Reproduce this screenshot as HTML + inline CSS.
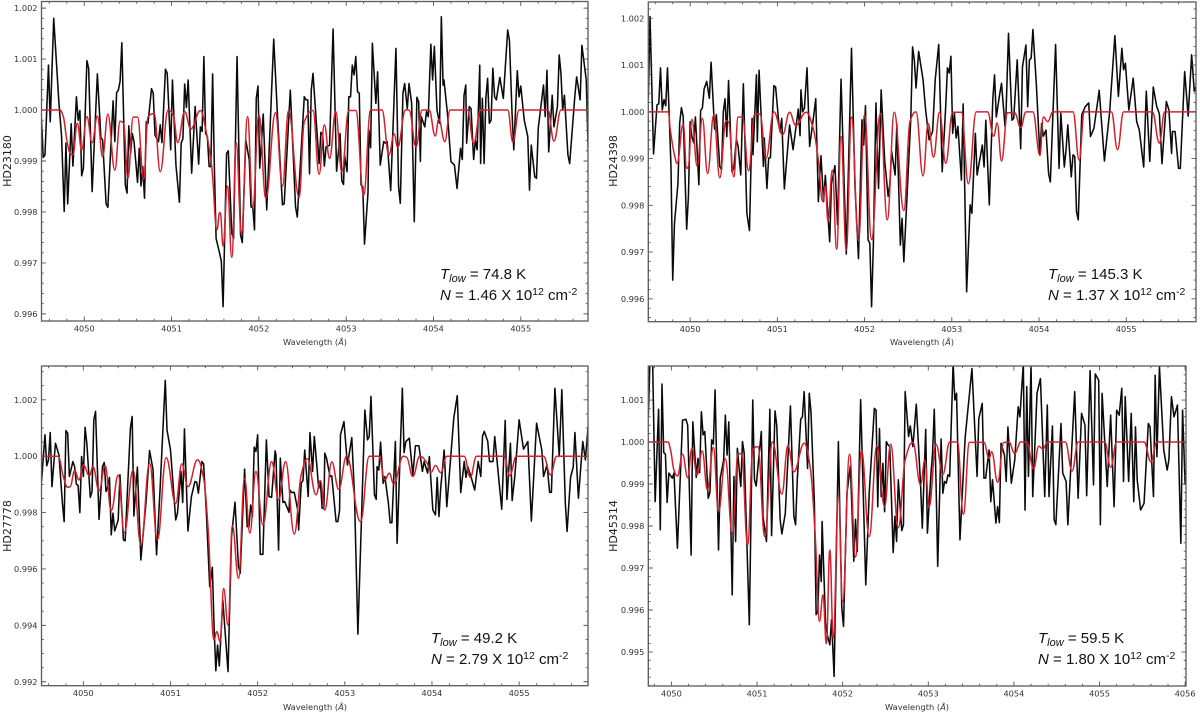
<!DOCTYPE html>
<html lang="en">
<head>
<meta charset="utf-8">
<title>Spectra fits</title>
<style>
html,body{margin:0;padding:0;background:#fff;width:1200px;height:712px;overflow:hidden}
svg{display:block;filter:blur(0.3px)}
.tick-text{font-family:"DejaVu Sans",sans-serif;font-size:8.2px;fill:#333}
.axis-title{font-family:"DejaVu Sans",sans-serif;font-size:8.3px;fill:#333;text-anchor:middle}
.star{font-family:"DejaVu Sans",sans-serif;font-size:11px;fill:#222;text-anchor:middle}
.note{font-family:"Liberation Sans",sans-serif;font-size:15px;fill:#111}
</style>
</head>
<body>
<svg id="figure" xmlns="http://www.w3.org/2000/svg" width="1200" height="712" viewBox="0 0 1200 712">
<rect width="1200" height="712" fill="#fff"/>
<g id="p1"></g>
<g id="p2"></g>
<g id="p3"></g>
<g id="p4"></g>

<text class="star" transform="translate(11,161) rotate(-90)">HD23180</text>
<text class="star" transform="translate(617,161) rotate(-90)">HD24398</text>
<text class="star" transform="translate(11,526) rotate(-90)">HD27778</text>
<text class="star" transform="translate(617,526) rotate(-90)">HD45314</text>

<text class="axis-title" x="315" y="345">Wavelength (<tspan font-style="italic">Å</tspan>)</text>
<text class="axis-title" x="922" y="345">Wavelength (<tspan font-style="italic">Å</tspan>)</text>
<text class="axis-title" x="315" y="710">Wavelength (<tspan font-style="italic">Å</tspan>)</text>
<text class="axis-title" x="917" y="710">Wavelength (<tspan font-style="italic">Å</tspan>)</text>

<g>
<text class="note" x="440" y="279"><tspan font-style="italic">T</tspan><tspan font-style="italic" font-size="11" dy="3">low</tspan><tspan dy="-3"> = 74.8 K</tspan></text>
<text class="note" x="440" y="300"><tspan font-style="italic">N</tspan> = 1.46 X 10<tspan font-size="10.5" dy="-5">12</tspan><tspan dy="5"> cm</tspan><tspan font-size="10.5" dy="-5">-2</tspan></text>
</g>
<g>
<text class="note" x="1048" y="279"><tspan font-style="italic">T</tspan><tspan font-style="italic" font-size="11" dy="3">low</tspan><tspan dy="-3"> = 145.3 K</tspan></text>
<text class="note" x="1048" y="300"><tspan font-style="italic">N</tspan> = 1.37 X 10<tspan font-size="10.5" dy="-5">12</tspan><tspan dy="5"> cm</tspan><tspan font-size="10.5" dy="-5">-2</tspan></text>
</g>
<g>
<text class="note" x="431" y="643"><tspan font-style="italic">T</tspan><tspan font-style="italic" font-size="11" dy="3">low</tspan><tspan dy="-3"> = 49.2 K</tspan></text>
<text class="note" x="431" y="664"><tspan font-style="italic">N</tspan> = 2.79 X 10<tspan font-size="10.5" dy="-5">12</tspan><tspan dy="5"> cm</tspan><tspan font-size="10.5" dy="-5">-2</tspan></text>
</g>
<g>
<text class="note" x="1038" y="643"><tspan font-style="italic">T</tspan><tspan font-style="italic" font-size="11" dy="3">low</tspan><tspan dy="-3"> = 59.5 K</tspan></text>
<text class="note" x="1038" y="664"><tspan font-style="italic">N</tspan> = 1.80 X 10<tspan font-size="10.5" dy="-5">12</tspan><tspan dy="5"> cm</tspan><tspan font-size="10.5" dy="-5">-2</tspan></text>
</g>
</svg>

<script>
// Wave arrays: angstroms relative to 4050. Flux arrays: departure from continuum in units of 0.001.
const hd23180ObsWave = [
-0.49,-0.47,-0.45,-0.41,-0.39,-0.35,-0.29,-0.26,-0.23,-0.21,
-0.19,-0.15,-0.13,-0.09,-0.07,-0.05,-0.03,-0.01,0.03,0.05,
0.09,0.15,0.19,0.21,0.25,0.27,0.33,0.35,0.37,0.39,
0.41,0.43,0.47,0.49,0.51,0.53,0.55,0.57,0.61,0.63,
0.65,0.67,0.69,0.71,0.73,0.77,0.79,0.81,0.85,0.87,
0.89,0.93,0.95,0.99,1.01,1.05,1.09,1.11,1.13,1.15,
1.17,1.19,1.23,1.27,1.31,1.33,1.35,1.37,1.39,1.41,
1.43,1.45,1.47,1.49,1.51,1.55,1.57,1.59,1.63,1.65,
1.69,1.71,1.75,1.79,1.81,1.85,1.89,1.91,1.93,1.95,
1.97,1.99,2.01,2.05,2.09,2.17,2.21,2.27,2.29,2.36,
2.42,2.44,2.52,2.54,2.56,2.58,2.60,2.62,2.69,2.71,
2.73,2.75,2.77,2.81,2.85,2.89,2.93,2.95,2.97,2.98,
3.01,3.03,3.05,3.07,3.09,3.11,3.13,3.15,3.17,3.19,
3.21,3.25,3.26,3.28,3.30,3.34,3.36,3.39,3.43,3.45,
3.47,3.51,3.57,3.60,3.62,3.65,3.67,3.70,3.72,3.75,
3.78,3.81,3.83,3.85,3.86,3.90,3.92,3.94,3.97,3.99,
4.01,4.04,4.07,4.09,4.11,4.12,4.16,4.20,4.24,4.27,
4.31,4.33,4.35,4.37,4.38,4.41,4.43,4.46,4.48,4.50,
4.53,4.54,4.56,4.58,4.60,4.62,4.64,4.66,4.68,4.70,
4.72,4.76,4.80,4.85,4.87,4.90,4.92,4.96,4.98,5.00,
5.04,5.08,5.10,5.12,5.16,5.18,5.20,5.26,5.28,5.30,
5.32,5.36,5.38,5.42,5.44,5.46,5.48,5.50,5.54,5.56,
5.62,5.64,5.68,5.70,5.75,5.78];
const hd23180ObsFlux = [
-0.20,-0.93,-0.88,0.88,-0.23,1.80,0.13,-0.52,-1.99,-0.65,
-1.84,-0.27,-1.10,0.26,-0.20,-0.01,-1.29,-1.14,0.97,0.82,
-1.60,0.71,-0.54,-0.59,-1.84,-1.91,0.18,-0.62,0.34,0.39,
0.56,1.32,-1.47,-1.63,-0.31,-0.85,-0.46,-0.62,-1.42,-0.75,
-1.49,-1.11,-1.73,-0.23,-0.26,0.42,0.33,-0.49,-0.62,-0.29,
-0.64,0.80,0.72,-0.78,0.59,-1.08,-1.81,-0.65,-0.56,0.51,
0.05,0.59,-1.24,0.07,-1.06,-0.33,-0.42,1.05,-0.46,-0.52,
-1.11,-1.11,0.71,-1.11,-2.52,-2.81,-2.97,-3.86,-0.85,-0.80,
-2.42,-2.52,1.05,-2.45,-2.60,-0.59,-0.98,-1.90,-1.91,-2.35,
0.23,0.47,-1.14,-0.08,-1.96,1.39,0,-1.86,-1.84,0.39,
-1.90,-2.10,0.26,0.20,0.20,-1.25,0.39,0.72,-1.05,-0.44,
-0.47,-1.10,-0.72,-0.69,1.59,-1.20,-0.46,-1.39,-1.46,-0.88,
-1.21,0.26,0.26,0.88,0.69,1.05,0.36,0.33,-1.47,-1.50,
-2.63,-1.62,-0.39,-0.74,1.31,0.13,0.75,-1.08,-0.62,-0.65,
-0.62,-1.58,1.21,-1.50,-1.83,0.33,0.52,0.03,0.52,0.13,
-2.19,0.25,0.16,-1.01,-0.13,-0.33,-0.03,-0.13,1.29,0.59,
1.25,0,-0.26,1.83,0.49,0.59,-0.07,-1.01,-1.08,-1.54,
-0.75,-0.97,0.29,0.49,-0.65,0.07,0.03,-0.97,-0.59,-0.78,
0.88,-1.05,0.23,-1.05,0.23,0.62,-0.26,-0.20,0.82,0.26,
0.20,0.64,0.23,1.57,1.37,-0.07,-0.78,0.77,0.26,0.47,
-0.20,-0.52,-1.57,-0.69,-1.31,-1.34,-0.36,0.49,-0.13,0.78,
-0.82,0.29,-0.33,0.07,1.08,0.72,0,0.29,-0.88,-1.05,
0.29,0.65,0.20,1.27,0.59,-1.27];
const hd23180FitWave = [
-0.49,-0.28,-0.24,-0.20,-0.16,-0.13,-0.08,-0.03,0.03,0.09,
0.15,0.21,0.27,0.35,0.41,0.45,0.50,0.56,0.61,0.68,
0.73,0.80,0.87,0.96,1.02,1.07,1.15,1.22,1.33,1.40,
1.46,1.52,1.55,1.56,1.59,1.64,1.69,1.74,1.80,1.87,
1.93,2.00,2.08,2.19,2.27,2.34,2.46,2.52,2.62,2.69,
2.75,2.81,2.88,2.95,3.03,3.11,3.20,3.28,3.41,3.49,
3.55,3.59,3.68,3.72,3.80,3.87,3.95,4.02,4.06,4.13,
4.19,4.39,4.46,4.54,4.85,4.91,4.98,5.31,5.38,5.46,5.78];
const hd23180FitFlux = [
0,0,-0.13,-0.59,-0.86,-0.88,-0.26,-0.78,-0.13,-0.64,
-0.12,-0.92,-0.08,-1.18,-0.22,-0.26,-1.34,-0.14,-0.14,-1.35,
-0.13,-0.07,-1.21,0,-0.10,-0.64,-0.03,-0.37,-0.01,-0.46,
-1.11,-2.35,-2.01,-2.03,-2.67,-1.49,-2.89,-0.65,-2.42,-0.13,
-1.90,-0.10,-1.73,-0.05,-1.49,-0.02,-1.71,-0.23,-0.01,-1.26,
-0.29,-0.95,-0.03,-1.21,-0.01,-0.01,-1.67,0,0,-0.88,
-0.47,-0.73,0,0,-0.72,0,0,-0.51,-0.18,-0.62,
0,0,-0.65,0,0,-0.63,0,0,-0.61,0,0];

const hd24398ObsWave = [
-0.48,-0.46,-0.42,-0.38,-0.36,-0.34,-0.32,-0.30,-0.28,-0.26,
-0.24,-0.22,-0.20,-0.18,-0.14,-0.12,-0.10,-0.08,-0.04,-0.02,
0,0.02,0.04,0.06,0.10,0.12,0.14,0.16,0.19,0.22,
0.24,0.28,0.30,0.34,0.36,0.38,0.40,0.42,0.44,0.48,
0.50,0.53,0.55,0.58,0.61,0.65,0.68,0.71,0.72,0.76,
0.77,0.79,0.84,0.85,0.88,0.90,0.92,0.96,0.98,1.02,
1.03,1.05,1.08,1.14,1.18,1.24,1.26,1.27,1.29,1.31,
1.34,1.37,1.42,1.44,1.47,1.50,1.53,1.55,1.60,1.62,
1.66,1.69,1.73,1.79,1.85,1.89,1.93,1.97,1.99,2.01,
2.04,2.06,2.08,2.10,2.13,2.16,2.19,2.23,2.27,2.29,
2.31,2.35,2.37,2.41,2.43,2.45,2.53,2.55,2.57,2.59,
2.62,2.67,2.70,2.74,2.78,2.81,2.85,2.89,2.93,2.95,
2.97,2.99,3.01,3.03,3.05,3.07,3.11,3.13,3.17,3.21,
3.23,3.27,3.29,3.35,3.37,3.39,3.43,3.47,3.49,3.51,
3.55,3.57,3.61,3.62,3.65,3.69,3.71,3.75,3.79,3.81,
3.85,3.87,3.89,3.91,3.93,3.97,4.01,4.03,4.05,4.08,
4.11,4.13,4.19,4.23,4.25,4.29,4.31,4.33,4.37,4.39,
4.41,4.43,4.45,4.49,4.53,4.57,4.59,4.63,4.69,4.75,
4.81,4.87,4.91,4.95,4.97,4.99,5.03,5.08,5.12,5.15,
5.20,5.23,5.27,5.31,5.35,5.38,5.41,5.46,5.49,5.52,
5.53,5.56,5.60,5.62,5.67,5.71,5.75,5.78,5.80];
const hd24398ObsFlux = [
0.26,2.04,-0.90,0.15,0.17,0.94,0.04,0.26,0.13,0.94,
-0.10,-1.17,-3.60,-2.39,-1.53,-0.24,0.09,-0.10,-2.51,-1.81,
-0.21,-0.53,-0.66,-0.11,-1.56,0.03,0.08,0.49,0.65,0.29,
1.06,-0.37,-0.06,-1.17,-1.24,0,0.28,-0.53,0.67,-1.28,
-1.21,-0.59,-0.74,-1.35,0.60,-2.17,-2.54,-0.14,-0.92,0.79,
-0.64,0.89,-1.17,-0.56,-1.64,-0.99,-0.98,0.56,0.53,-0.31,
-0.42,-0.14,-1.65,-0.28,-0.81,0.06,-0.51,0.47,0,0.08,
0.94,-0.74,-0.03,0.28,-1.92,-0.94,-1.92,-1.36,-2.78,-1.53,
-1.15,-2.42,0.70,-3.04,1.36,-1.60,-3.14,-0.17,-0.71,0.13,
-2.74,-2.81,-4.17,-2.89,0.19,-1.64,0.47,-1.03,-1.81,-1.53,
-0.85,-1.35,-0.26,-2.85,-2.28,-3.21,-0.14,1.39,1.11,0.51,
1.29,0.69,0.04,-0.60,-0.42,0.69,1.44,-1.28,0.11,0.94,
0.83,1.19,-0.46,-0.03,-0.56,-0.31,-1.46,0.17,-3.85,-1.99,
-2.17,-0.46,-1.35,-0.71,-1.18,-0.18,-1.99,0.26,0.79,-0.11,
0.39,0.61,-0.31,-0.14,1.68,-0.18,-0.14,1.11,-0.79,0.96,
1.43,0.11,1.11,1.15,1.76,0.57,-0.93,-0.25,-0.52,-0.39,
-1.32,-1.50,1.44,-1.21,-0.03,-1.18,-0.81,-0.28,-1.39,-0.92,
-0.96,-2.14,-2.31,-0.06,0.11,0.19,-0.53,-0.35,0.46,-1.05,
0,1.63,0.33,1.36,0.90,1.04,0.04,0.72,-0.21,-0.39,
-1.18,0.44,-1.06,0.53,0.11,-0.04,-1.11,0.22,0.04,-0.89,
-0.42,-0.42,-1.21,-1.21,0.86,-0.09,1.22,0.44,0.54];
const hd24398FitWave = [
-0.48,-0.25,-0.23,-0.18,-0.15,-0.08,-0.04,-0.02,0.02,0.08,
0.14,0.20,0.27,0.34,0.41,0.44,0.50,0.55,0.60,0.67,
0.74,0.80,0.87,0.96,1.06,1.14,1.21,1.33,1.41,1.47,
1.52,1.55,1.58,1.63,1.68,1.73,1.79,1.85,1.93,2.00,
2.08,2.18,2.26,2.34,2.45,2.52,2.59,2.67,2.73,2.79,
2.86,2.93,3.01,3.11,3.19,3.28,3.41,3.48,3.52,3.57,
3.64,3.72,3.79,3.85,3.93,4.01,4.05,4.10,4.16,4.39,
4.46,4.52,4.83,4.90,4.97,5.30,5.38,5.44,5.80];
const hd24398FitFlux = [
0,0,-0.35,-0.92,-1.10,-0.26,-1.21,-1.17,-0.16,-1.16,
-0.14,-1.32,-0.07,-1.41,-0.19,-0.21,-1.39,-0.11,-0.11,-1.26,
-0.05,-0.05,-0.99,0,-0.49,-0.01,-0.29,-0.01,-0.35,-1.03,
-1.92,-1.59,-2.34,-1.25,-2.94,-0.53,-2.96,-0.11,-2.76,-0.06,
-2.73,-0.04,-2.31,-0.01,-2.11,-0.21,0,-1.37,-0.25,-0.97,
-0.01,-1.10,-0.01,-0.01,-1.54,0,0,-0.52,-0.24,-1.05,
-0.02,-0.02,-0.34,0,0,-0.93,-0.11,-0.21,0,0,
-1.03,0,0,-0.81,0,0,-0.67,0,0];

const hd27778ObsWave = [
-0.48,-0.44,-0.42,-0.40,-0.38,-0.36,-0.32,-0.28,-0.24,-0.22,
-0.20,-0.18,-0.16,-0.12,-0.10,-0.08,-0.06,-0.04,-0.02,0,
0.02,0.04,0.08,0.10,0.12,0.14,0.18,0.22,0.24,0.26,
0.28,0.30,0.32,0.34,0.36,0.40,0.42,0.46,0.48,0.50,
0.54,0.56,0.58,0.62,0.66,0.68,0.72,0.76,0.80,0.84,
0.88,0.94,0.96,1.00,1.06,1.08,1.12,1.14,1.16,1.20,
1.24,1.28,1.30,1.32,1.36,1.38,1.41,1.45,1.48,1.50,
1.52,1.54,1.56,1.60,1.66,1.70,1.74,1.78,1.80,1.85,
1.88,1.90,1.92,1.94,1.96,1.98,2.00,2.03,2.06,2.10,
2.13,2.16,2.20,2.21,2.24,2.26,2.29,2.31,2.36,2.37,
2.39,2.42,2.46,2.47,2.50,2.52,2.54,2.58,2.60,2.63,
2.65,2.68,2.70,2.72,2.74,2.76,2.77,2.79,2.83,2.85,
2.90,2.92,2.94,2.95,2.99,3.03,3.08,3.11,3.15,3.23,
3.26,3.28,3.30,3.34,3.36,3.37,3.39,3.41,3.44,3.46,
3.50,3.52,3.54,3.58,3.60,3.66,3.68,3.70,3.74,3.78,
3.81,3.85,3.89,3.91,3.95,3.97,4.01,4.04,4.06,4.08,
4.10,4.14,4.17,4.25,4.29,4.33,4.37,4.39,4.41,4.45,
4.49,4.53,4.56,4.58,4.60,4.64,4.66,4.70,4.72,4.76,
4.80,4.84,4.86,4.90,4.92,4.95,5.00,5.05,5.10,5.14,
5.20,5.26,5.28,5.32,5.35,5.37,5.41,5.46,5.49,5.53,
5.55,5.59,5.62,5.64,5.68,5.73,5.76,5.80];
const hd27778ObsFlux = [
-0.90,0.76,-0.34,-0.13,0.84,-1.08,0.46,0.05,-1.67,-2.32,
0.91,0.82,-0.72,-0.19,-0.37,-0.99,-1.04,-2.00,-0.01,-0.72,
1.02,0.46,-1.46,-1.25,1.29,1.59,-2.24,-0.37,-0.22,-1.25,
-1.08,-0.75,-2.79,-2.02,-2.65,-2.26,-0.66,-2.97,-3.00,-1.61,
0.99,1.41,-2.12,-0.39,-3.68,-2.97,-1.61,0.20,-0.49,-3.50,
-1.20,2.69,0.93,0.22,-2.26,-2.02,-0.54,-1.64,0.97,-2.65,
-1.43,-0.90,-0.92,-1.31,-0.19,-0.27,-1.91,-4.63,-3.94,-6.05,
-7.61,-6.70,-7.44,-5.10,-7.64,-2.85,-1.63,-3.92,-4.15,-0.46,
-2.50,-2.50,-1.73,-2.14,0.32,0.17,0.76,-3.48,-3.48,0.58,
-1.43,-1.46,0.19,0.05,-3.33,-0.07,-1.64,-1.61,-1.99,-1.20,
-1.29,-1.28,-1.91,-2.62,-0.96,-0.86,0.22,-1.43,0.84,-0.54,
0.70,-0.37,-1.14,-0.93,-1.85,-1.85,0.11,-0.07,-0.72,-0.70,
-2.32,-2.32,-1.91,0.76,1.23,-0.31,0.66,-1.31,-6.31,1.64,
0.58,0.70,2.12,-1.37,-1.53,-0.37,-0.49,0.50,-0.96,-0.72,
-1.67,-2.36,-2.36,0.52,-3.09,2.41,0.13,0.52,0.64,-0.66,
0.37,0.37,-0.54,-0.19,-0.60,-0.01,-1.91,-2.08,-0.75,-2.14,
-1.14,0.22,-1.79,1.35,2.15,-1.29,-0.19,-0.75,-0.37,-0.75,
-1.20,-0.19,-0.72,0.72,0.88,0.52,-0.19,-0.19,0.70,-0.60,
-1.88,1.27,-1.53,0.46,-1.57,-0.72,1.29,0.25,0.52,-2.30,
1.17,0.22,-0.72,-0.31,-1.28,-1.28,2.41,-0.01,2.36,-1.67,
-2.67,-0.75,-0.39,0.84,-1.49,0.52,-0.13,1.38];
const hd27778FitWave = [
-0.48,-0.29,-0.23,-0.18,-0.15,-0.10,-0.05,0,0.07,0.11,
0.18,0.25,0.32,0.40,0.47,0.57,0.66,0.76,0.85,0.95,
1.06,1.13,1.20,1.31,1.38,1.43,1.50,1.53,1.57,1.61,
1.66,1.71,1.78,1.85,1.91,1.98,2.06,2.16,2.24,2.32,
2.42,2.50,2.57,2.67,2.72,2.77,2.85,2.93,3.02,3.18,
3.28,3.39,3.46,3.51,3.56,3.67,3.71,3.78,3.86,3.94,
3.99,4.04,4.10,4.17,4.37,4.44,4.51,4.83,4.89,4.97,
5.28,5.36,5.43,5.80];
const hd27778FitFlux = [
0,0,-0.72,-1.10,-1.08,-0.51,-0.84,-0.31,-0.69,-0.37,
-1.22,-0.34,-1.93,-0.67,-2.71,-0.49,-3.15,-0.25,-2.97,-0.05,
-1.67,-0.27,-1.08,-0.13,-0.78,-2.50,-6.52,-6.22,-6.58,-4.69,
-5.99,-2.47,-4.33,-0.78,-2.73,-0.54,-2.44,-0.19,-1.55,-0.19,
-2.76,-0.66,-0.09,-1.37,-0.86,-1.91,-0.20,-1.17,0,-2.32,
0,0,-0.84,-0.60,-0.98,0,-0.04,-0.72,0,-0.22,
-0.57,-0.33,-0.58,0,0,-0.75,0,0,-0.69,0,
0,-0.66,0,0];

const hd45314ObsWave = [
-0.27,-0.25,-0.22,-0.19,-0.15,-0.13,-0.11,-0.09,-0.07,-0.05,
-0.03,0.01,0.03,0.07,0.11,0.13,0.17,0.19,0.23,0.25,
0.29,0.31,0.33,0.35,0.37,0.39,0.43,0.45,0.47,0.49,
0.51,0.55,0.57,0.61,0.63,0.65,0.67,0.71,0.73,0.75,
0.77,0.81,0.83,0.85,0.91,0.95,0.97,0.99,1.05,1.07,
1.11,1.15,1.17,1.21,1.23,1.27,1.29,1.33,1.39,1.43,
1.45,1.47,1.51,1.53,1.55,1.59,1.61,1.63,1.67,1.69,
1.71,1.73,1.75,1.76,1.80,1.82,1.85,1.87,1.88,1.90,
1.95,1.99,2.01,2.05,2.09,2.13,2.15,2.17,2.21,2.27,
2.31,2.37,2.39,2.41,2.43,2.45,2.47,2.49,2.51,2.53,
2.55,2.59,2.61,2.63,2.65,2.69,2.71,2.73,2.77,2.79,
2.82,2.86,2.91,2.93,2.97,2.99,3.03,3.05,3.07,3.09,
3.11,3.15,3.17,3.19,3.21,3.23,3.25,3.29,3.31,3.33,
3.37,3.43,3.51,3.57,3.59,3.63,3.65,3.67,3.71,3.73,
3.75,3.79,3.81,3.83,3.85,3.89,3.91,3.93,3.97,4.01,
4.05,4.07,4.11,4.13,4.15,4.17,4.20,4.22,4.27,4.31,
4.36,4.39,4.41,4.45,4.47,4.49,4.55,4.57,4.61,4.63,
4.71,4.75,4.79,4.83,4.85,4.89,4.93,4.95,4.99,5.01,
5.03,5.09,5.13,5.17,5.20,5.23,5.26,5.28,5.30,5.34,
5.37,5.40,5.42,5.44,5.48,5.52,5.57,5.59,5.63,5.65,
5.67,5.70,5.75,5.79,5.81,5.84,5.87,5.91,5.95,5.97,6.00];
const hd45314ObsFlux = [
0.60,2.00,2.00,-1.42,0.78,-2.09,1.38,-0.25,-0.29,-1.44,
-0.74,-0.86,-0.74,-2.53,-0.51,0.52,0.54,0.40,-2.69,0.48,
-0.84,-0.39,-0.73,0.72,0.17,0.25,-1.34,-1.20,0.05,-0.05,
1.24,-2.57,-0.86,-0.43,0.64,-0.31,0.48,-3.64,-0.82,-2.37,
-0.15,-1.06,0.01,-0.27,-4.35,1.00,-0.90,-1.05,0.25,-1.77,
-2.37,0.78,-2.23,0.74,0.40,-1.85,-2.19,-1.70,0.86,-1.77,
-1.97,-0.90,0.54,0.60,1.20,-0.63,1.16,0.72,-1.46,-4.11,
-4.03,-2.69,-3.32,-1.89,-4.31,-4.59,-4.83,-4.23,-4.67,-5.58,
0.01,-3.95,-4.39,-1.22,-0.57,-2.84,-1.84,-2.61,1.01,-3.40,
-1.22,0.80,0.76,-1.54,0.32,-1.30,-0.51,-1.66,0.01,-0.07,
-0.11,-2.63,-1.77,-2.37,-0.90,-2.11,-1.97,1.20,0.13,0.38,
-0.11,0.90,-1.02,-2.05,0.30,-2.17,-0.78,-0.27,0.78,-0.90,
-2.96,0.07,-1.22,-0.94,-0.98,-0.78,-0.82,1.87,1.00,1.16,
-2.33,0.09,1.75,-0.82,0.56,0.92,-0.86,-0.86,-0.19,-1.42,
-0.90,-1.93,-1.54,-1.92,-0.03,-0.31,-0.94,0.36,-0.98,-0.43,
0.84,0.60,1.87,-1.62,1.32,-0.82,1.87,-1.30,1.16,1.51,
-1.30,0.88,-1.30,0.38,-1.85,-1.97,0.44,-0.74,-0.94,-1.97,
1.20,-1.34,0.68,0.40,-1.28,1.70,-1.02,1.62,1.47,-1.97,
1.16,-1.06,0.64,-1.54,0.76,0.64,1.28,-0.94,1.08,-0.94,
0.68,-1.42,0.36,-0.90,-1.62,-1.46,0.44,0.36,-1.30,1.59,
-0.35,1.79,-0.19,-0.67,-0.43,1.08,0.60,0.88,-2.41,0.76,-1.02];
const hd45314FitWave = [
-0.27,-0.04,-0.01,0.03,0.07,0.13,0.19,0.24,0.30,0.36,
0.42,0.49,0.55,0.63,0.71,0.78,0.82,0.89,0.95,1.01,
1.09,1.18,1.29,1.36,1.43,1.55,1.62,1.68,1.73,1.77,
1.81,1.85,1.89,1.95,2.00,2.08,2.15,2.22,2.31,2.40,
2.49,2.56,2.65,2.73,2.82,2.91,2.96,3.01,3.09,3.17,
3.25,3.34,3.41,3.48,3.65,3.71,3.74,3.81,3.88,3.94,
4.01,4.08,4.15,4.23,4.29,4.34,4.39,4.60,4.68,4.75,
5.06,5.13,5.20,5.52,5.60,5.67,6.01];
const hd45314FitFlux = [
0,0,-0.19,-0.67,-0.81,-0.29,-0.85,-0.15,-0.78,-0.21,
-1.14,-0.13,-1.66,-0.40,-2.17,-0.27,-0.29,-2.45,-0.19,-0.11,
-2.25,0,-1.24,-0.09,-0.71,-0.03,-0.59,-2.25,-4.27,-3.64,
-4.80,-2.57,-4.67,-1.26,-3.80,-0.29,-2.74,-0.21,-2.25,-0.09,
-1.54,-0.05,-2.04,-0.43,-0.01,-1.02,-0.43,-1.54,-0.05,-0.77,
0,0,-1.72,-0.01,-0.01,-0.39,-0.23,-0.96,-0.01,0,
-0.27,0,0,-0.64,-0.10,-0.17,0,0,-0.69,0,
0,-0.60,0,0,-0.47,0,0];

const xTickLabels = [4050,4051,4052,4053,4054,4055];
const xTickLabelsLast = [4050,4051,4052,4053,4054,4055,4056];
const yTicksA = [0.996,0.997,0.998,0.999,1.000,1.001,1.002];
const yTicksB = [0.992,0.994,0.996,0.998,1.000,1.002];
const yTicksC = [0.995,0.996,0.997,0.998,0.999,1.000,1.001];

const SVGNS = "http://www.w3.org/2000/svg";

function create(tag, parent) {
  const node = document.createElementNS(SVGNS, tag);
  parent.appendChild(node);
  return node;
}

function linearScale(d0, d1, r0, r1) {
  return function (v) { return r0 + (v - d0) * (r1 - r0) / (d1 - d0); };
}

function straightPath(xs, ys) {
  let d = "";
  const n = Math.min(xs.length, ys.length);
  for (let i = 0; i < n; i++) {
    d += (i ? "L" : "M") + xs[i].toFixed(2) + " " + ys[i].toFixed(2);
  }
  return d;
}

function smoothPath(xs, ys) {
  const n = Math.min(xs.length, ys.length);
  const m = [];
  for (let i = 0; i < n; i++) {
    if (i === 0 || i === n - 1) { m.push(0); continue; }
    const a = (ys[i] - ys[i - 1]) / (xs[i] - xs[i - 1]);
    const b = (ys[i + 1] - ys[i]) / (xs[i + 1] - xs[i]);
    m.push(a * b <= 0 ? 0 : 2 * a * b / (a + b));
  }
  let d = "M" + xs[0].toFixed(2) + " " + ys[0].toFixed(2);
  for (let i = 1; i < n; i++) {
    const h = (xs[i] - xs[i - 1]) / 2.4;
    d += "C" + (xs[i - 1] + h).toFixed(2) + " " + (ys[i - 1] + m[i - 1] * h).toFixed(2) + " "
      + (xs[i] - h).toFixed(2) + " " + (ys[i] - m[i] * h).toFixed(2) + " "
      + xs[i].toFixed(2) + " " + ys[i].toFixed(2);
  }
  return d;
}

function drawPanel(o) {
  const g = document.getElementById(o.id);
  const xs = linearScale(o.xMin, o.xMax, o.left, o.right);
  const ys = linearScale(o.yMin, o.yMax, o.bottom, o.top);
  const clip = create("clipPath", g);
  clip.setAttribute("id", o.id + "-clip");
  const clipRect = create("rect", clip);
  clipRect.setAttribute("x", o.left);
  clipRect.setAttribute("y", o.top);
  clipRect.setAttribute("width", o.right - o.left);
  clipRect.setAttribute("height", o.bottom - o.top);

  const obs = create("path", g);
  
  
  obs.setAttribute("d", straightPath(o.obsWave.map(function (w) { return xs(4050 + w); }),
    o.obsFlux.map(function (f) { return ys(1 + f / 1000); })));
  obs.setAttribute("fill", "none");
  obs.setAttribute("stroke", "#0a0a0a");
  obs.setAttribute("stroke-width", "1.55");
  obs.setAttribute("stroke-linejoin", "round");
  obs.setAttribute("clip-path", "url(#" + o.id + "-clip)");

  const fit = create("path", g);
  
  
  fit.setAttribute("d", smoothPath(o.fitWave.map(function (w) { return xs(4050 + w); }),
    o.fitFlux.map(function (f) { return ys(1 + f / 1000); })));
  fit.setAttribute("fill", "none");
  fit.setAttribute("stroke", "#d2202c");
  fit.setAttribute("stroke-width", "1.5");
  fit.setAttribute("clip-path", "url(#" + o.id + "-clip)");

  const ticks = create("g", g);
  
  
  ticks.setAttribute("stroke", "#555");
  ticks.setAttribute("stroke-width", "0.9");
  let dTicks = "";
  for (let v = Math.ceil(o.xMin * 5) / 5; v <= o.xMax + 1e-6; v += 0.2) {
    const major = Math.abs(v - Math.round(v)) < 1e-6;
    const len = major ? 4.5 : 2.3;
    const px = xs(v).toFixed(2);
    dTicks += "M" + px + " " + o.bottom + "v" + (-len) + "M" + px + " " + o.top + "v" + len;
  }
  const yCount = Math.round((o.yMax - o.yMin) / o.yMinor);
  const yStart = Math.ceil(o.yMin / o.yMinor) * o.yMinor;
  for (let i = 0; i <= yCount; i++) {
    const v = yStart + i * o.yMinor;
    if (v > o.yMax) break;
    const major = o.yTicks.some(function (t) { return Math.abs(t - v) < 1e-6; });
    const len = major ? 4.5 : 2.3;
    const py = ys(v).toFixed(2);
    dTicks += "M" + o.left + " " + py + "h" + len + "M" + o.right + " " + py + "h" + (-len);
  }
  const tickPath = create("path", ticks);
  tickPath.setAttribute("d", dTicks);
  tickPath.setAttribute("fill", "none");

  const frame = create("rect", g);
  
  
  frame.setAttribute("x", o.left);
  frame.setAttribute("y", o.top);
  frame.setAttribute("width", o.right - o.left);
  frame.setAttribute("height", o.bottom - o.top);
  frame.setAttribute("fill", "none");
  frame.setAttribute("stroke", "#5a5a5a");
  frame.setAttribute("stroke-width", "1.3");

  o.xTicks.forEach(function (t) {
    const label = create("text", g);
    
    
    label.setAttribute("class", "tick-text");
    label.setAttribute("x", xs(t));
    label.setAttribute("y", o.bottom + 10.5);
    label.setAttribute("text-anchor", "middle");
    label.textContent = String(t);
  });
  o.yTicks.forEach(function (t) {
    const label = create("text", g);
    
    
    label.setAttribute("class", "tick-text");
    label.setAttribute("x", o.left - 4);
    label.setAttribute("y", ys(t) + 3);
    label.setAttribute("text-anchor", "end");
    label.textContent = t.toFixed(3);
  });
}

drawPanel({ id: "p1", left: 41.5, right: 588, top: 1.5, bottom: 321,
  xMin: 4049.51, xMax: 4055.77, yMin: 0.99586, yMax: 1.00213, yMinor: 0.0002,
  xTicks: xTickLabels, yTicks: yTicksA,
  obsWave: hd23180ObsWave, obsFlux: hd23180ObsFlux, fitWave: hd23180FitWave, fitFlux: hd23180FitFlux });
drawPanel({ id: "p2", left: 648.3, right: 1196, top: 2, bottom: 321.7,
  xMin: 4049.52, xMax: 4055.8, yMin: 0.99551, yMax: 1.00235, yMinor: 0.0002,
  xTicks: xTickLabels, yTicks: yTicksA,
  obsWave: hd24398ObsWave, obsFlux: hd24398ObsFlux, fitWave: hd24398FitWave, fitFlux: hd24398FitFlux });
drawPanel({ id: "p3", left: 41.5, right: 588, top: 366, bottom: 685.7,
  xMin: 4049.52, xMax: 4055.79, yMin: 0.99186, yMax: 1.0032, yMinor: 0.0005,
  xTicks: xTickLabels, yTicks: yTicksB,
  obsWave: hd27778ObsWave, obsFlux: hd27778ObsFlux, fitWave: hd27778FitWave, fitFlux: hd27778FitFlux });
drawPanel({ id: "p4", left: 648.3, right: 1186, top: 366, bottom: 686,
  xMin: 4049.73, xMax: 4056.01, yMin: 0.99419, yMax: 1.00181, yMinor: 0.0002,
  xTicks: xTickLabelsLast, yTicks: yTicksC,
  obsWave: hd45314ObsWave, obsFlux: hd45314ObsFlux, fitWave: hd45314FitWave, fitFlux: hd45314FitFlux });
</script>
</body>
</html>
